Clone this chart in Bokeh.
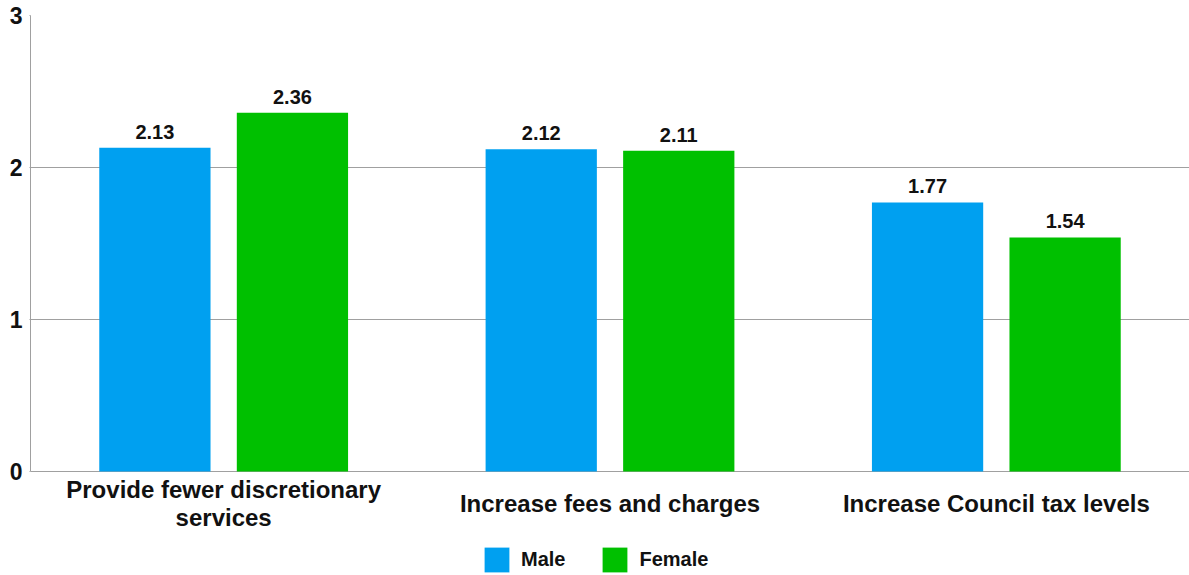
from bokeh.plotting import figure
from bokeh.models import ColumnDataSource, FactorRange, Legend, LegendItem, SingleIntervalTicker
from bokeh.transform import dodge
from bokeh.core.properties import value
from bokeh.embed import file_html
from bokeh.resources import INLINE

categories = ["Provide fewer discretionary\nservices", "Increase fees and charges", "Increase Council tax levels"]
male = [2.13, 2.12, 1.77]
female = [2.36, 2.11, 1.54]
series_names = ["Male", "Female"]
colors = ["#00A0F0", "#00C000"]
y_max = 3

FONT = "Liberation Sans"
TXT = "#111111"
GRID = "#A0A0A0"

# frame layout: 152 px per unit; the 104 px of the frame below zero hold
# the category labels and the legend
PX_PER_UNIT = 152
BELOW_ZERO = 104
y_start = -BELOW_ZERO / PX_PER_UNIT

src = ColumnDataSource(dict(
    cat=categories, male=male, female=female,
    zero=[0] * len(categories),
    male_lbl=["%.2f" % v for v in male],
    female_lbl=["%.2f" % v for v in female],
))

p = figure(x_range=FactorRange(*categories, range_padding=0), y_range=(y_start, y_max),
           frame_width=1159, frame_height=round((y_max - y_start) * PX_PER_UNIT),
           output_backend="svg", toolbar_location=None,
           min_border_left=30, min_border_right=0, min_border_top=15, min_border_bottom=0)

r_m = p.vbar(x=dodge("cat", -0.178, range=p.x_range), top="male", bottom="zero", width=0.288,
             source=src, color=colors[0], line_color=None)
r_f = p.vbar(x=dodge("cat", 0.178, range=p.x_range), top="female", bottom="zero", width=0.288,
             source=src, color=colors[1], line_color=None)

for key, off in (("male", -0.178), ("female", 0.178)):
    p.text(x=dodge("cat", off, range=p.x_range), y=key, text=key + "_lbl", source=src,
           text_align="center", text_baseline="bottom", y_offset=-9,
           text_font=value(FONT), text_font_style="bold", text_font_size="20px", text_color=TXT)

# category labels under each group (centred vertically in the label zone)
p.text(x="cat", y="zero", text="cat", source=src, text_align="center", text_baseline="middle",
       y_offset=32, text_font=value(FONT), text_font_style="bold", text_font_size="24px",
       text_color=TXT, text_line_height=1.07)

p.outline_line_color = None
p.xgrid.grid_line_color = None
p.ygrid.grid_line_color = GRID
p.ygrid.grid_line_width = 1
p.yaxis.ticker = SingleIntervalTicker(interval=1)
p.yaxis.bounds = (0, y_max)
p.yaxis.axis_line_color = GRID
p.yaxis.major_tick_line_color = GRID
p.yaxis.major_tick_out = 1
p.yaxis.major_tick_in = 0
p.yaxis.minor_tick_line_color = None
p.yaxis.major_label_standoff = 4
p.yaxis.major_label_text_font_size = "23px"
p.yaxis.major_label_text_font = FONT
p.yaxis.major_label_text_font_style = "bold"
p.yaxis.major_label_text_color = TXT
p.xaxis.visible = False

legend = Legend(items=[LegendItem(label=series_names[0], renderers=[r_m]),
                       LegendItem(label=series_names[1], renderers=[r_f])],
                orientation="horizontal", location=(451, 0),
                glyph_width=31, glyph_height=31, spacing=34, label_standoff=9,
                label_text_font=FONT, label_text_font_style="bold", label_text_font_size="20px",
                label_text_color=TXT,
                border_line_color=None, background_fill_alpha=0, padding=0, margin=0)
p.add_layout(legend, "center")

open("out.html", "w").write(file_html(p, INLINE))
